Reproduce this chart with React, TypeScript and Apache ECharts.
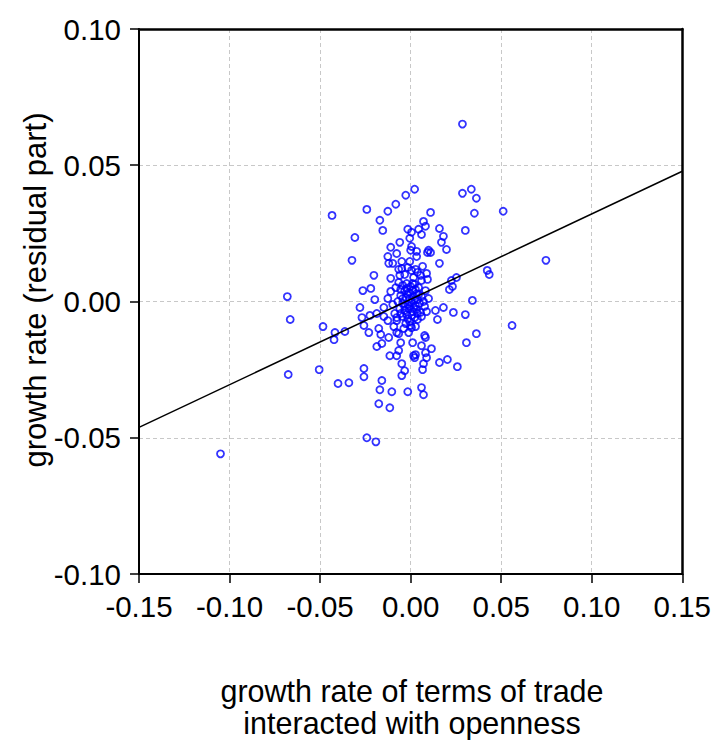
import React, { useEffect, useRef } from "react";
import * as echarts from "echarts";

// x: growth rate of terms of trade interacted with openness, y: growth rate (residual part)
const POINTS_SPARSE: [number, number][] = [
  [-0.105, -0.0559], [0.0286, 0.0651], [0.0747, 0.0151], [0.056, -0.0088],
  [-0.0681, 0.0018], [-0.0665, -0.0066], [-0.0676, -0.0268], [-0.0505, -0.025],
  [-0.0484, -0.0092], [-0.0434, 0.0316], [-0.0418, -0.0114], [-0.0423, -0.014],
  [-0.0363, -0.011], [-0.0401, -0.0301], [-0.0341, -0.0298], [-0.0324, 0.0151],
  [-0.0308, 0.0235], [-0.0242, 0.0338], [-0.028, -0.0022], [-0.0269, -0.0059],
  [-0.0258, -0.0088], [-0.0258, -0.0246], [-0.0258, -0.0276], [-0.0242, -0.05],
  [-0.0192, -0.0515], [-0.0203, 0.0096], [-0.0264, 0.004], [-0.0176, -0.0375],
  [-0.017, -0.0324], [-0.017, 0.0298], [-0.0154, 0.0261], [-0.0159, -0.029],
  [-0.0115, -0.039], [-0.0126, 0.0331], [-0.0104, -0.0331], [-0.0115, -0.0199],
  [-0.0077, -0.0199], [-0.0082, 0.0357], [-0.0027, 0.039], [0.0022, 0.0412],
  [-0.0016, -0.0331], [0.006, -0.0316], [0.0071, -0.0342], [0.0066, -0.025],
  [0.011, 0.0327], [0.0286, 0.0397], [0.0335, 0.0412], [0.0363, 0.0379],
  [0.0302, 0.0261], [0.0352, 0.0324], [0.0511, 0.0331], [0.0423, 0.0114],
  [0.0434, 0.0099], [0.0341, 0.0004], [0.0363, -0.0118], [0.0308, -0.0151],
  [0.0258, -0.0239], [0.0203, -0.0213], [0.0159, -0.0224], [0.0302, -0.0048],
  [0.0236, -0.004], [0.0148, -0.0066], [0.0181, -0.0022], [0.0137, -0.0033],
  [0.0088, -0.0037], [0.006, -0.0055], [0.0077, -0.0125], [0.0082, -0.0132],
  [0.006, -0.0162], [0.0115, -0.0173], [0.0082, -0.0188], [0.0027, -0.0195],
  [0.0022, -0.0206], [0.0088, -0.0206], [0.0071, -0.0228], [0.0011, -0.0151],
  [0.0005, -0.0096], [0.0027, -0.0092], [-0.0049, -0.0228], [-0.0033, -0.0254],
  [-0.0049, -0.0272], [-0.0159, -0.0154], [-0.0187, -0.0165], [-0.0165, -0.0121],
  [-0.0176, -0.0099], [-0.0231, -0.0114], [-0.0121, -0.0132], [-0.0066, -0.0118],
  [-0.0055, -0.0151], [-0.0066, -0.018], [-0.0225, -0.0051], [-0.0187, -0.0044],
  [-0.0148, -0.0022], [-0.0198, 0.0007], [-0.022, 0.0048], [-0.0126, 0.0011],
  [-0.0082, 0.0051], [-0.011, 0.0085], [-0.006, 0.0096], [-0.0049, 0.0121],
  [-0.0016, 0.0125], [-0.0121, 0.014], [-0.0099, 0.014], [-0.0049, 0.0147],
  [-0.0005, 0.0147], [-0.0126, 0.0165], [-0.0077, 0.0176], [-0.011, 0.0199],
  [-0.006, 0.0217], [0.0005, 0.0202], [-0.0005, 0.0232], [-0.0016, 0.0265],
  [0.0005, 0.0254], [0.0071, 0.0294], [0.0082, 0.0276], [0.0044, 0.0265],
  [0.006, 0.0246], [0.0159, 0.0268], [0.0181, 0.0239], [0.017, 0.0217],
  [0.0198, 0.0191], [0.0099, 0.0188], [0.011, 0.018], [0.0093, 0.018],
  [0.0159, 0.014], [0.0033, 0.0184], [0.0033, 0.0165], [0.0225, 0.0077],
  [0.0253, 0.0088], [0.0231, 0.0055], [0.0214, 0.0044], [0.0088, 0.0103],
  [0.0093, 0.0081], [0.0055, 0.0096], [0.006, 0.0077], [0.0027, 0.0118],
  [0.0016, -0.0199],
];

const POINTS_CORE: [number, number][] = [
  [-0.0066, 0.007], [-0.0044, 0.0059], [-0.0022, 0.0066], [0, 0.0055],
  [0.0022, 0.0063], [0.0044, 0.0051], [-0.0033, 0.004], [-0.0011, 0.0033],
  [0.0011, 0.004], [0.0033, 0.0029], [-0.0055, 0.0022], [-0.0027, 0.0015],
  [-0.0005, 0.0011], [0.0016, 0.0018], [0.0038, 0.0007], [0.006, 0.0018],
  [-0.0071, 0], [-0.0044, -0.0007], [-0.0016, -0.0011], [0.0005, -0.0004],
  [0.0027, -0.0015], [0.0049, -0.0007], [0.0071, 0], [-0.006, -0.0026],
  [-0.0033, -0.0033], [-0.0011, -0.0026], [0.0011, -0.0037], [0.0033, -0.0029],
  [0.0055, -0.004], [-0.0088, -0.0044], [-0.0044, -0.0055], [-0.0016, -0.0063],
  [0.0005, -0.0051], [0.0038, -0.0066], [-0.0027, -0.0081], [0, -0.0088],
  [-0.0077, -0.007], [-0.0099, -0.0011], [0.0082, 0.004], [0.0099, 0.0011],
  [0.0077, -0.0018], [-0.011, 0.0037], [0, 0.0188], [0.0005, 0.0114],
  [0.0016, 0.0088], [-0.0077, -0.0059], [-0.0038, -0.0099], [-0.0011, -0.0114],
  [-0.0077, -0.0114], [-0.0093, -0.0092], [-0.0126, -0.007], [-0.0148, -0.0055],
  [-0.0055, 0.0044], [-0.0022, 0.0048], [0.0011, 0.0066], [0.0027, 0.0044],
  [-0.0044, 0.0011], [-0.0016, 0.0026], [0.0022, 0.0007], [0.0044, 0.0026],
  [-0.0033, -0.0018], [-0.0005, -0.0018], [0.0016, -0.0022], [0.0038, -0.0044],
  [-0.0055, -0.0044], [-0.0022, -0.0048], [0.0022, -0.0059], [-0.0005, -0.0074],
  [-0.0066, 0.0118], [-0.0033, 0.0099], [0.0038, 0.0107], [0.0066, 0.0129],
];

// fitted regression line endpoints
const FIT_X = [-0.15, 0.15];
const FIT_Y = [-0.0462, 0.0478];

const X_MIN = -0.15;
const X_MAX = 0.15;
const Y_MIN = -0.1;
const Y_MAX = 0.1;
const TICK_STEP = 0.05;

const X_TITLE_LINES = ["growth rate of terms of trade", "interacted with openness"];
const Y_TITLE = "growth rate (residual part)";

const FONT = "'Liberation Sans', Arial, Helvetica, sans-serif";

const fmt = (v: number) => (Math.abs(v) < 1e-9 ? "0.00" : v.toFixed(2));

export default function App() {
  const ref = useRef<HTMLDivElement>(null);

  useEffect(() => {
    if (!ref.current) return;
    const chart = echarts.init(ref.current, undefined, { renderer: "svg" });
    const axisCommon = {
      axisLine: { show: true, onZero: false, lineStyle: { color: "#000", width: 2 } },
      axisTick: { show: true, inside: false, length: 9, lineStyle: { color: "#000", width: 1.5 } },
      splitLine: {
        show: true,
        showMinLine: false,
        showMaxLine: false,
        lineStyle: { color: "#c8c8c8", type: [4, 3] as any, width: 1 },
      },
      axisLabel: { color: "#000", fontSize: 29.5, fontFamily: FONT, formatter: fmt },
    };
    const frameAxis = {
      type: "value",
      axisLine: { show: true, onZero: false, lineStyle: { color: "#000", width: 2.5 } },
      axisTick: { show: false },
      axisLabel: { show: false },
      splitLine: { show: false },
    };
    chart.setOption({
      animation: false,
      backgroundColor: "#fff",
      grid: {
        left: 139,
        top: 29,
        right: 29,
        bottom: 166,
        show: false,
      },
      xAxis: [
        {
          type: "value",
          min: X_MIN,
          max: X_MAX,
          interval: TICK_STEP,
          position: "bottom",
          ...axisCommon,
          axisLabel: { ...axisCommon.axisLabel, margin: 17 },
        },
        { ...frameAxis, min: X_MIN, max: X_MAX, interval: TICK_STEP, position: "top" },
      ],
      yAxis: [
        {
          type: "value",
          min: Y_MIN,
          max: Y_MAX,
          interval: TICK_STEP,
          position: "left",
          ...axisCommon,
          axisLabel: { ...axisCommon.axisLabel, margin: 18 },
        },
        { ...frameAxis, min: Y_MIN, max: Y_MAX, interval: TICK_STEP, position: "right" },
      ],
      graphic: [
        {
          type: "text",
          x: 35,
          y: 290,
          rotation: Math.PI / 2,
          style: {
            text: Y_TITLE,
            fill: "#000",
            font: `31px ${FONT}`,
            align: "center",
            verticalAlign: "middle",
          },
        },
        ...X_TITLE_LINES.map((t, i) => ({
          type: "text",
          x: 412,
          y: 691 + i * 32,
          style: {
            text: t,
            fill: "#000",
            font: `30.5px ${FONT}`,
            align: "center",
            verticalAlign: "middle",
          },
        })),
      ],
      series: [
        {
          type: "scatter",
          data: [...POINTS_SPARSE, ...POINTS_CORE],
          symbol: "circle",
          symbolSize: 7,
          itemStyle: { color: "rgba(0,0,0,0)", borderColor: "#0000ff", borderWidth: 1.8 },
          z: 2,
        },
        {
          type: "line",
          data: FIT_X.map((x, i) => [x, FIT_Y[i]]),
          symbol: "none",
          lineStyle: { color: "#000", width: 1.5 },
          z: 3,
        },
      ],
    });
    return () => chart.dispose();
  }, []);

  return (
    <div
      ref={ref}
      style={{ position: "fixed", left: 0, top: 0, width: 714, height: 740, background: "#fff" }}
    />
  );
}
